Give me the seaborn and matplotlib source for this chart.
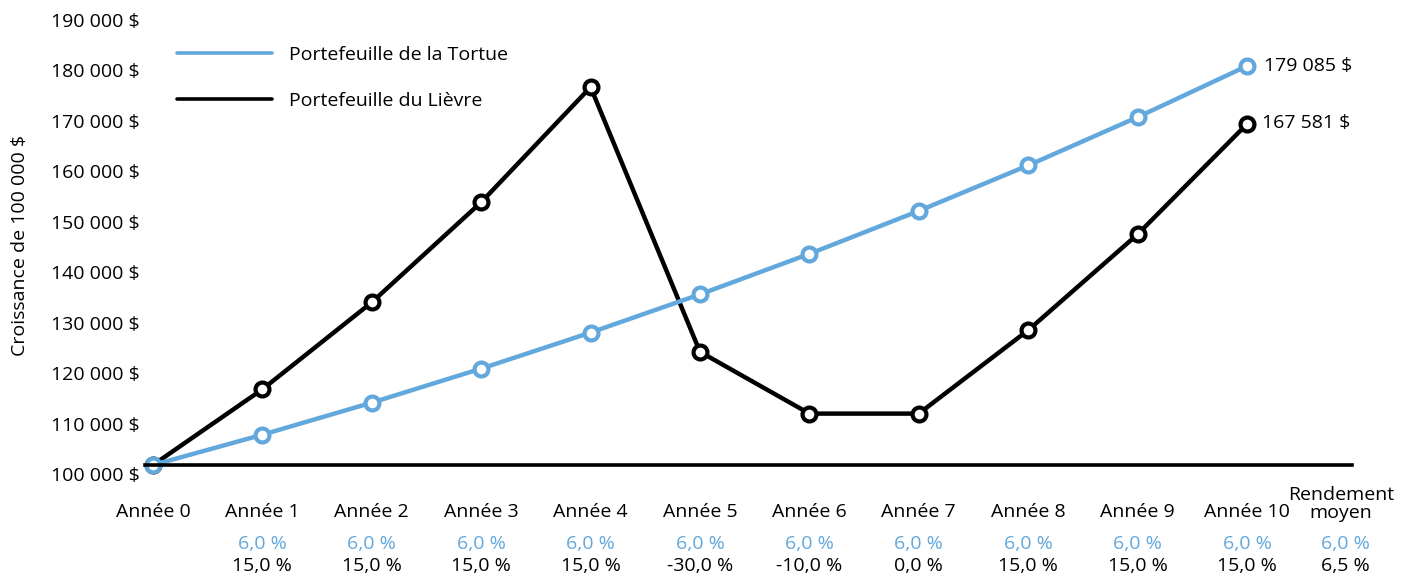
import numpy as np
import pandas as pd
import seaborn as sns
import matplotlib
matplotlib.use("Agg")
from matplotlib import pyplot as plt
from matplotlib.transforms import ScaledTranslation

# Data
annees = list(range(11))
tortue = [100000, 106000, 112360, 119102, 126248, 133823, 141852, 150363, 159385, 168948, 179085]
lievre = [100000, 115000, 132250, 152088, 174901, 122431, 110188, 110188, 126716, 145724, 167583]
rend_tortue = ["6,0 %"] * 10 + ["6,0 %"]
rend_lievre = ["15,0 %", "15,0 %", "15,0 %", "15,0 %", "-30,0 %", "-10,0 %", "0,0 %",
               "15,0 %", "15,0 %", "15,0 %", "6,5 %"]
x_labels = ["Année %d" % i for i in annees]
y_ticks = list(range(100000, 190001, 10000))
y_labels = ["%d 000 $" % (v // 1000) for v in y_ticks]
end_labels = ["179 085 $", "167 581 $"]

BLUE = "#62a8dc"
BLACK = "#000000"
FS = 14

sns.set_style("white")
plt.rcParams["font.family"] = ["Open Sans", "DejaVu Sans"]
plt.rcParams["font.size"] = FS
plt.rcParams["text.color"] = BLACK
plt.rcParams["ytick.color"] = BLACK
plt.rcParams["ytick.labelcolor"] = BLACK

W, H = 1403, 576
fig = plt.figure(figsize=(W / 100, H / 100), dpi=100)
ax_left, ax_right, ax_top, ax_base = 145, 1352, 0, 465
ax = fig.add_axes([ax_left / W, 1 - ax_base / H, (ax_right - ax_left) / W, (ax_base - ax_top) / H])

df = pd.DataFrame({"annee": annees * 2,
                   "valeur": lievre + tortue,
                   "serie": ["Portefeuille du Lièvre"] * 11 + ["Portefeuille de la Tortue"] * 11})

for nom, col in [("Portefeuille du Lièvre", BLACK), ("Portefeuille de la Tortue", BLUE)]:
    sns.lineplot(data=df[df.serie == nom], x="annee", y="valeur", ax=ax, color=col,
                 lw=3.2, marker="o", markersize=10, markerfacecolor="white",
                 markeredgecolor=col, markeredgewidth=3, clip_on=False, label=nom)

ax.set_xlim(-0.073, 10.96)
ax.set_ylim(100000, 192170)
ax.set_xlabel("")
ax.set_ylabel("")
ax.set_xticks([])
ax.set_yticks(y_ticks)
ax.set_yticklabels(y_labels)
ax.tick_params(axis="y", length=0, pad=4, labelsize=FS, labelcolor=BLACK)
for lab in ax.get_yticklabels():
    lab.set_transform(lab.get_transform() + ScaledTranslation(0, -0.09, fig.dpi_scale_trans))
for s in ["top", "right", "left"]:
    ax.spines[s].set_visible(False)
ax.spines["bottom"].set_linewidth(2.6)
ax.spines["bottom"].set_color(BLACK)

# Legend
handles, labels = ax.get_legend_handles_labels()
order = [1, 0]
leg = ax.legend([handles[i] for i in order], [labels[i] for i in order],
                loc="upper left", bbox_to_anchor=((177 - ax_left - 8) / (ax_right - ax_left), 1 - 38 / 465),
                frameon=False, handlelength=4.9, handletextpad=0.85, labelspacing=1.45,
                fontsize=FS, borderaxespad=0)
for h in leg.legend_handles:
    h.set_marker("")
    h.set_linewidth(2.6)

# End labels
ax.annotate(end_labels[0], (annees[-1], tortue[-1]), xytext=(12, 0), textcoords="offset points",
            va="center", ha="left", fontsize=FS)
ax.annotate(end_labels[1], (annees[-1], lievre[-1]), xytext=(11, 1), textcoords="offset points",
            va="center", ha="left", fontsize=FS)

# Labels under the axis
tr = ax.get_xaxis_transform()
for i in annees:
    ax.text(i, -47 / 465, x_labels[i], transform=tr, ha="center", va="center", fontsize=FS)
ax.text(10.86, -39 / 465, "Rendement\nmoyen", transform=tr, ha="center", va="center",
        fontsize=FS, linespacing=1.0)
cols = annees[1:] + [10.9]
for j, x in enumerate(cols):
    ax.text(x, -79 / 465, rend_tortue[j], transform=tr, ha="center", va="center", fontsize=FS, color=BLUE)
    ax.text(x, -101 / 465, rend_lievre[j], transform=tr, ha="center", va="center", fontsize=FS, color=BLACK)

fig.text(20 / W, 1 - 245 / H, "Croissance de 100 000 $", rotation=90, ha="center", va="center", fontsize=FS)

fig.savefig("out.png", dpi=100)
